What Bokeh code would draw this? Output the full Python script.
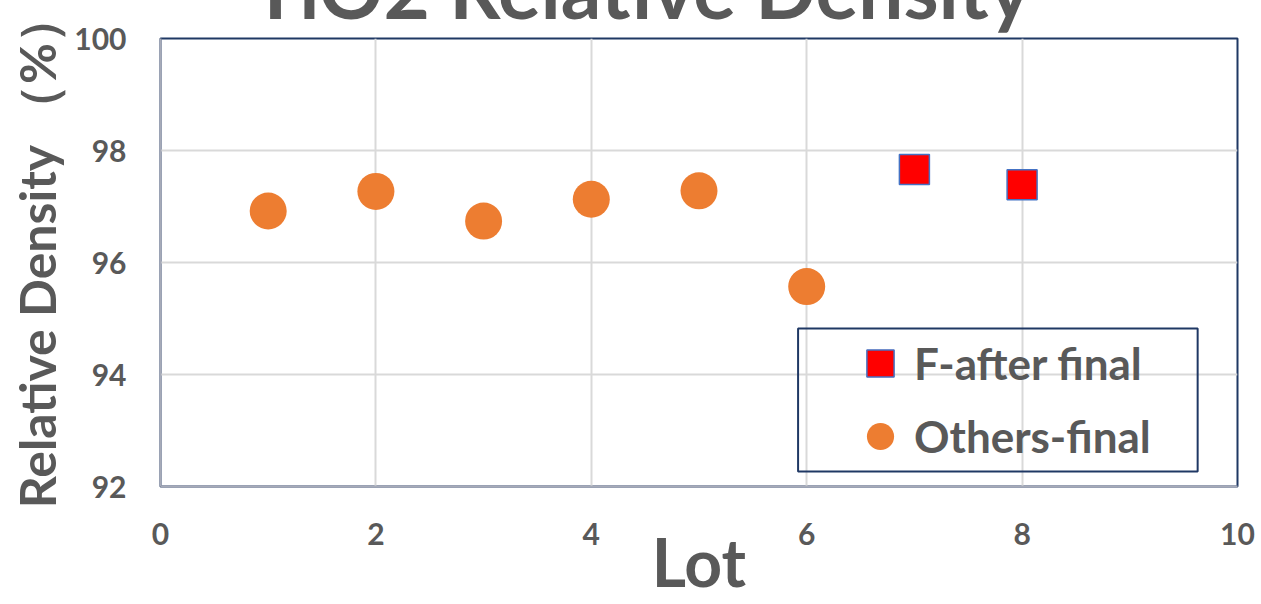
from bokeh.plotting import figure
from bokeh.models import FixedTicker, Legend, LegendItem, Title, BoxAnnotation, Range1d
from bokeh.embed import file_html
from bokeh.resources import INLINE

# ---- data ----
lots_others = [1, 2, 3, 4, 5, 6]
density_others = [96.92, 97.27, 96.74, 97.13, 97.28, 95.57]
lots_f_after = [7, 8]
density_f_after = [97.66, 97.39]
x_ticks = [0, 2, 4, 6, 8, 10]
y_ticks = [92, 94, 96, 98, 100]
title_text = "TiO2 Relative Density"
x_label = "Lot"
y_label = "\u2002Relative Density \uff08%\uff09"
series_names = ["F-after final", "Others-final"]

FONT = "Lato"
TEXT = "#595959"

# title: top-anchored two-line box (second line empty) so that the panel stays
# within the 38px top border while the text is pushed up and cut by the top edge
title = Title(text=title_text + "\n", align="left", offset=91,
              vertical_align="top", standoff=-122,
              text_font=FONT, text_font_style="bold", text_font_size="80px",
              text_color=TEXT, text_line_height=0.642)

p = figure(width=1261, height=604, title=title,
           x_range=Range1d(0, 10), y_range=Range1d(92, 100),
           output_backend="svg", toolbar_location=None,
           min_border_left=160, min_border_right=24,
           min_border_top=38, min_border_bottom=118)

p.background_fill_color = "white"
p.border_fill_color = "white"
p.outline_line_color = "#1F3864"
p.outline_line_width = 2

# grid
p.xgrid.ticker = FixedTicker(ticks=x_ticks)
p.ygrid.ticker = FixedTicker(ticks=y_ticks)
for g in (p.xgrid[0], p.ygrid[0]):
    g.grid_line_color = "#D9D9D9"
    g.grid_line_width = 2

# axes
p.xaxis.ticker = FixedTicker(ticks=x_ticks)
p.yaxis.ticker = FixedTicker(ticks=y_ticks)
for ax in (p.xaxis[0], p.yaxis[0]):
    ax.axis_line_color = "#A6AAB8"
    ax.axis_line_width = 2
    ax.major_tick_line_color = None
    ax.minor_tick_line_color = None
    ax.major_tick_out = 0
    ax.major_tick_in = 0
    ax.minor_tick_out = 0
    ax.major_label_text_font = FONT
    ax.major_label_text_font_style = "bold"
    ax.major_label_text_font_size = "30px"
    ax.major_label_text_color = TEXT
    ax.axis_label_text_font = FONT
    ax.axis_label_text_font_style = "bold"
    ax.axis_label_text_color = TEXT
    ax.axis_label_text_line_height = 1.0

p.xaxis.axis_label = x_label
p.xaxis.axis_label_text_font_size = "66px"
p.xaxis.major_label_standoff = 36
p.xaxis.axis_label_standoff = -26

p.yaxis.axis_label = y_label
p.yaxis.axis_label_text_font_size = "50px"
p.yaxis.major_label_standoff = 34
p.yaxis.axis_label_standoff = 4

# data
r_f = p.scatter(lots_f_after, density_f_after, marker="square", size=30,
                fill_color="#FF0000", line_color="#4472C4", line_width=1.5)
r_o = p.scatter(lots_others, density_others, marker="circle", size=37,
                fill_color="#ED7D31", line_color="#ED7D31", line_width=0)

# legend frame (transparent, navy border)
legend_box = BoxAnnotation(left=5.92, right=9.63, bottom=92.27, top=94.82,
                           fill_alpha=0, line_color="#1F3864", line_width=2,
                           line_alpha=1)
p.add_layout(legend_box)

legend = Legend(items=[LegendItem(label=series_names[0], renderers=[r_f]),
                       LegendItem(label=series_names[1], renderers=[r_o])],
                location=(686, 15), orientation="vertical",
                padding=0, spacing=3, margin=0,
                glyph_width=68, glyph_height=70, label_standoff=0,
                label_text_font=FONT, label_text_font_style="bold",
                label_text_font_size="44px", label_text_color=TEXT,
                background_fill_alpha=0, border_line_alpha=0)
p.add_layout(legend, "center")

open("out.html", "w").write(file_html(p, INLINE))
